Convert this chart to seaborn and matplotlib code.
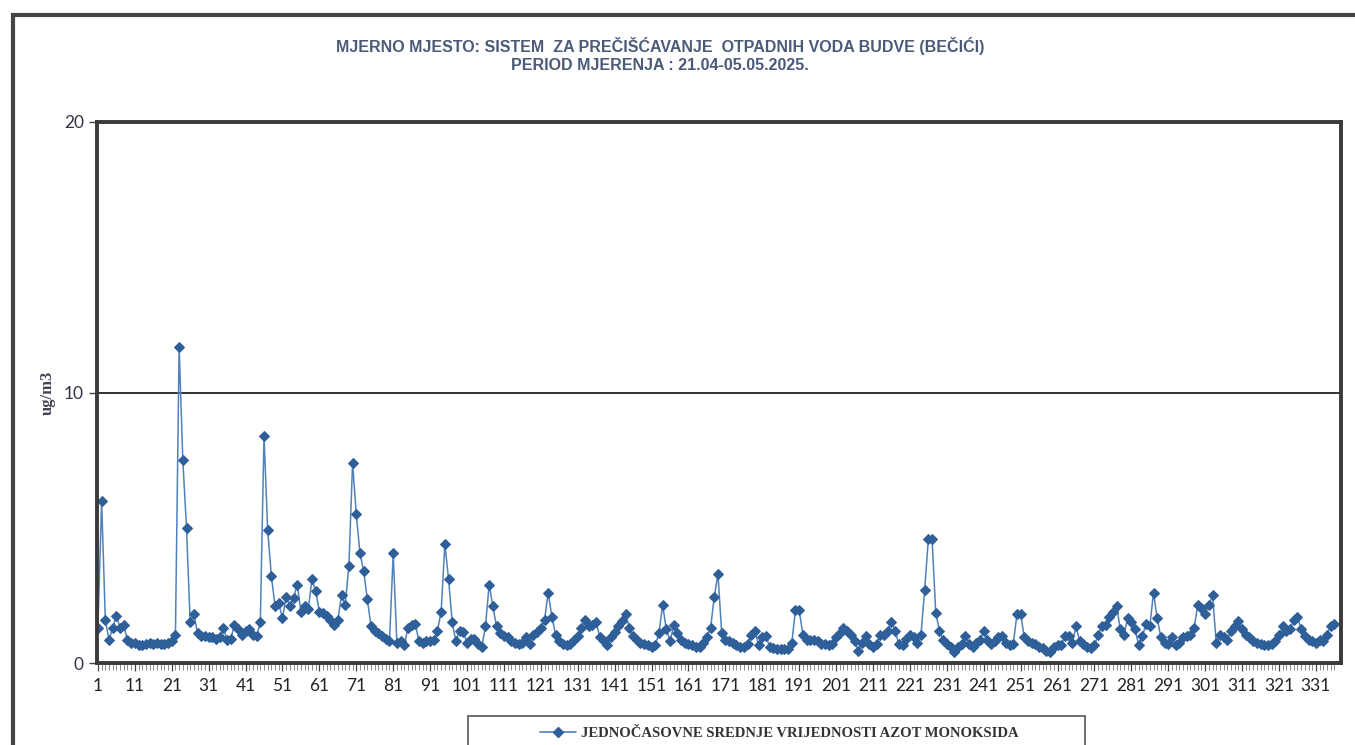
import numpy as np
import pandas as pd
import matplotlib
matplotlib.use('Agg')
import matplotlib.pyplot as plt
from matplotlib.patches import Rectangle
from matplotlib.lines import Line2D
import seaborn as sns

# hourly NO values (ug/m3), 21.04 - 05.05.2025
no_values = [
    1.3, 6.0, 1.6, 0.85, 1.3, 1.75, 1.3, 1.4, 0.85, 0.75,
    0.75, 0.65, 0.65, 0.7, 0.75, 0.7, 0.75, 0.7, 0.7, 0.75,
    0.8, 1.05, 11.7, 7.5, 5.0, 1.5, 1.8, 1.1, 1.0, 1.0,
    0.95, 0.95, 0.9, 0.95, 1.3, 0.85, 0.9, 1.4, 1.25, 1.05,
    1.2, 1.25, 1.05, 1.0, 1.5, 8.4, 4.9, 3.2, 2.1, 2.2,
    1.65, 2.45, 2.1, 2.4, 2.9, 1.9, 2.1, 2.0, 3.1, 2.65,
    1.9, 1.85, 1.75, 1.6, 1.4, 1.6, 2.5, 2.15, 3.6, 7.4,
    5.5, 4.05, 3.4, 2.35, 1.35, 1.2, 1.1, 1.0, 0.9, 0.8,
    4.05, 0.75, 0.8, 0.65, 1.3, 1.4, 1.45, 0.8, 0.75, 0.8,
    0.8, 0.85, 1.2, 1.9, 4.4, 3.1, 1.5, 0.8, 1.2, 1.15,
    0.75, 0.9, 0.9, 0.7, 0.6, 1.35, 2.9, 2.1, 1.35, 1.1,
    1.0, 0.95, 0.8, 0.75, 0.7, 0.75, 0.95, 0.7, 1.05, 1.15,
    1.3, 1.6, 2.6, 1.7, 1.05, 0.8, 0.7, 0.65, 0.7, 0.85,
    1.0, 1.3, 1.6, 1.35, 1.4, 1.5, 0.95, 0.8, 0.65, 0.95,
    1.15, 1.35, 1.55, 1.8, 1.3, 1.0, 0.85, 0.75, 0.7, 0.65,
    0.6, 0.65, 1.1, 2.15, 1.25, 0.8, 1.4, 1.1, 0.85, 0.75,
    0.7, 0.65, 0.6, 0.6, 0.75, 0.95, 1.3, 2.45, 3.3, 1.1,
    0.85, 0.8, 0.75, 0.65, 0.6, 0.6, 0.7, 1.05, 1.2, 0.65,
    0.95, 1.0, 0.6, 0.55, 0.5, 0.5, 0.5, 0.5, 0.75, 1.95,
    1.95, 1.05, 0.85, 0.85, 0.85, 0.8, 0.7, 0.7, 0.65, 0.7,
    0.95, 1.1, 1.3, 1.2, 1.05, 0.8, 0.45, 0.75, 1.0, 0.7,
    0.6, 0.7, 1.05, 1.05, 1.2, 1.5, 1.2, 0.7, 0.65, 0.9,
    1.05, 0.95, 0.75, 1.05, 2.7, 4.6, 4.6, 1.85, 1.2, 0.85,
    0.7, 0.6, 0.4, 0.6, 0.7, 1.0, 0.7, 0.6, 0.75, 0.85,
    1.2, 0.85, 0.7, 0.8, 0.95, 1.0, 0.75, 0.65, 0.7, 1.8,
    1.8, 0.95, 0.8, 0.75, 0.7, 0.6, 0.55, 0.45, 0.4, 0.6,
    0.65, 0.65, 1.0, 1.0, 0.75, 1.35, 0.8, 0.7, 0.6, 0.55,
    0.65, 1.05, 1.35, 1.4, 1.7, 1.9, 2.1, 1.25, 1.05, 1.65,
    1.5, 1.25, 0.65, 1.0, 1.45, 1.35, 2.6, 1.65, 0.95, 0.75,
    0.7, 0.95, 0.65, 0.75, 0.95, 1.0, 1.05, 1.3, 2.15, 2.05,
    1.8, 2.15, 2.5, 0.75, 1.05, 0.95, 0.85, 1.2, 1.35, 1.55,
    1.25, 1.05, 0.95, 0.8, 0.75, 0.7, 0.65, 0.65, 0.7, 0.8,
    1.05, 1.35, 1.2, 1.25, 1.6, 1.7, 1.25, 1.0, 0.85, 0.8,
    0.75, 0.85, 0.8, 1.05, 1.35, 1.45,
]
hours = list(range(1, len(no_values) + 1))
x_ticks = list(range(1, 332, 10))
y_ticks = [0, 10, 20]
limit_value = 10

title = ("MJERNO MJESTO: SISTEM  ZA PREČIŠĆAVANJE  OTPADNIH VODA BUDVE (BEČIĆI)\n"
         "PERIOD MJERENJA : 21.04-05.05.2025.")
legend_label = "JEDNOČASOVNE SREDNJE VRIJEDNOSTI AZOT MONOKSIDA"

df = pd.DataFrame({'sat': hours, 'vrijednost': no_values})

sns.set_style('white')
plt.rcParams['font.family'] = ['Liberation Serif', 'DejaVu Serif']

W, H = 1355, 745
fig = plt.figure(figsize=(W / 100, H / 100), dpi=100)
ax = fig.add_axes([97 / W, 1 - 663 / H, (1341 - 97) / W, (663 - 122) / H])

line_col = '#4f81bd'
mark_col = '#2f5f99'
sns.lineplot(data=df, x='sat', y='vrijednost', ax=ax, color=line_col, lw=1.1,
             marker='D', markersize=5, markerfacecolor=mark_col,
             markeredgecolor=mark_col, label=legend_label, legend=False)

ax.axhline(limit_value, color='#222222', lw=1.3, zorder=1)

ax.set_xlim(0.75, 337.8)
ax.set_ylim(0, 20)
ax.set_xticks(x_ticks)
ax.set_xticklabels([str(t) for t in x_ticks], fontsize=12.5, color='#222222',
                   family=['Lato', 'DejaVu Sans'])
ax.set_xticks(hours, minor=True)
ax.set_yticks(y_ticks)
ax.set_yticklabels([str(t) for t in y_ticks], fontsize=12.5, color='#333344',
                   family=['Lato', 'DejaVu Sans'])
ax.tick_params(which='both', bottom=True, left=True)
ax.tick_params(axis='x', which='major', direction='out', length=6, width=0.9, pad=5, color='#444444')
ax.tick_params(axis='x', which='minor', direction='out', length=5, width=0.6, color='#777777')
ax.tick_params(axis='y', which='major', direction='out', length=6, width=1, color='#444444')
ax.set_xlabel('')
ax.set_ylabel('ug/m3', fontsize=12, color='#444455', labelpad=6, fontweight='bold')

for s in ax.spines.values():
    s.set_visible(True)
    s.set_color('#3a3a3a')
    s.set_linewidth(2.8)

fig.text(0.487, 1 - 55 / H, title, ha='center', va='center', fontsize=11.5,
         fontweight='bold', color='#4a5a78', linespacing=1.3,
         family=['Liberation Sans', 'DejaVu Sans'])

# outer page border
fig.add_artist(Rectangle((13 / W, -0.2), 1.2, 1.2 - 15 / H, transform=fig.transFigure,
                         fill=False, edgecolor='#444444', lw=3))

# legend box (cut at the bottom)
fig.add_artist(Rectangle((468 / W, -0.05), (1085 - 468) / W, 0.05 + 1 - 716 / H,
                         transform=fig.transFigure, fill=False, edgecolor='#555555', lw=1.2))
handle = Line2D([], [], color=line_col, lw=1.2, marker='D', markersize=5,
                markerfacecolor=mark_col, markeredgecolor=mark_col)
leg = fig.legend([handle], [legend_label], loc='center', bbox_to_anchor=(0.575, 1 - 733 / H),
                 frameon=False, handlelength=2.5, handletextpad=0.3,
                 prop={'weight': 'bold', 'size': 10.5})
for t in leg.get_texts():
    t.set_color('#333333')

fig.savefig('out.png', dpi=100, facecolor='white')
